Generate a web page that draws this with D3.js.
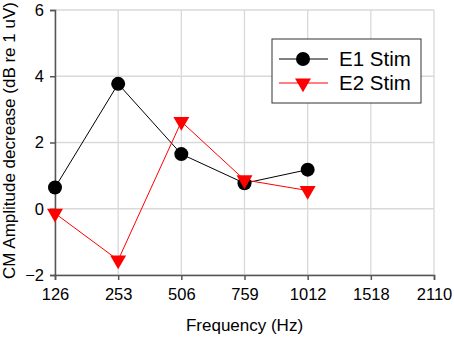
<!DOCTYPE html>
<html>
<head>
<meta charset="utf-8">
<script src="https://cdn.jsdelivr.net/npm/d3@7"></script>
<style>
  body { margin: 0; background: #fff; }
  text { font-family: "Liberation Sans", Arial, sans-serif; }
</style>
</head>
<body>
<div id="chart-area"></div>
<script>
// frequency categories along the x axis
let freqs = ["126", "253", "506", "759", "1012", "1518", "2110"];
let yTicks = [-2, 0, 2, 4, 6];

// values
let e1Freqs = ["126", "253", "506", "759", "1012"];
let e1Vals = [0.64, 3.77, 1.65, 0.77, 1.18];
let e2Freqs = ["126", "253", "506", "759", "1012"];
let e2Vals = [-0.14, -1.55, 2.63, 0.87, 0.55];

let margin = {top: 10, right: 20, bottom: 62, left: 55};
let width = 454 - margin.left - margin.right,
    height = 337 - margin.top - margin.bottom;

let svg = d3.select("#chart-area").append("svg")
    .attr("width", 454)
    .attr("height", 337)
    .append("g")
    .attr("transform", "translate(" + margin.left + "," + margin.top + ")");

let x = d3.scalePoint()
    .domain(freqs)
    .range([0, width]);

let y = d3.scaleLinear()
    .domain([-2, 6])
    .range([height, 0]);

// grid
svg.selectAll(".hgrid")
    .data(yTicks)
    .enter().append("line")
    .attr("x1", 0).attr("x2", width)
    .attr("y1", d => y(d)).attr("y2", d => y(d))
    .attr("stroke", "#d9d9d9")
    .attr("stroke-width", 1.3);

svg.selectAll(".vgrid")
    .data(freqs)
    .enter().append("line")
    .attr("x1", d => x(d)).attr("x2", d => x(d))
    .attr("y1", 0).attr("y2", height)
    .attr("stroke", "#d9d9d9")
    .attr("stroke-width", 1.3);

// axes
let xAxis = d3.axisBottom(x).tickSize(5).tickPadding(8);
let yAxis = d3.axisLeft(y).tickValues(yTicks).tickSize(5).tickPadding(6);

let gx = svg.append("g")
    .attr("transform", "translate(0," + height + ")")
    .call(xAxis);
let gy = svg.append("g").call(yAxis);

[gx, gy].forEach(g => {
    g.select(".domain").attr("stroke", "#555").attr("stroke-width", 1.5);
    g.selectAll(".tick line").attr("stroke", "#555").attr("stroke-width", 1.5);
    g.selectAll(".tick text").attr("fill", "#000").style("font-size", "16.5px")
        .style("font-family", "'Liberation Sans', Arial, sans-serif");
});

// axis titles
svg.append("text")
    .attr("x", width / 2)
    .attr("y", height + 56)
    .attr("text-anchor", "middle")
    .style("font-size", "17px")
    .text("Frequency (Hz)");

svg.append("text")
    .attr("transform", "rotate(-90)")
    .attr("x", -height / 2 + 2)
    .attr("y", -40)
    .attr("text-anchor", "middle")
    .style("font-size", "17px")
    .text("CM Amplitude decrease (dB re 1 uV)");

let line = d3.line()
    .x(d => x(d[0]))
    .y(d => y(d[1]));

let e1 = e1Freqs.map((f, i) => [f, e1Vals[i]]);
let e2 = e2Freqs.map((f, i) => [f, e2Vals[i]]);

let tri = d3.symbol().type(d3.symbolTriangle).size(110);

// E1 series
svg.append("path")
    .datum(e1)
    .attr("d", line)
    .attr("fill", "none")
    .attr("stroke", "#000")
    .attr("stroke-width", 1);

// E2 series
svg.append("path")
    .datum(e2)
    .attr("d", line)
    .attr("fill", "none")
    .attr("stroke", "#ff0000")
    .attr("stroke-width", 1);

svg.selectAll(".e1dot")
    .data(e1)
    .enter().append("circle")
    .attr("cx", d => x(d[0]))
    .attr("cy", d => y(d[1]))
    .attr("r", 7)
    .attr("fill", "#000");

svg.selectAll(".e2tri")
    .data(e2)
    .enter().append("path")
    .attr("d", tri)
    .attr("transform", d => "translate(" + x(d[0]) + "," + y(d[1]) + ") rotate(180)")
    .attr("fill", "#ff0000");

// legend
let legend = svg.append("g")
    .attr("transform", "translate(" + (272 - margin.left) + "," + (39 - margin.top) + ")");

legend.append("rect")
    .attr("width", 149)
    .attr("height", 64)
    .attr("fill", "#fff")
    .attr("stroke", "#333")
    .attr("stroke-width", 1);

let legendItems = [
    {name: "E1 Stim", color: "#000", shape: "circle"},
    {name: "E2 Stim", color: "#ff0000", shape: "tri"}
];

legendItems.forEach((d, i) => {
    let ly = 20 + i * 24;
    legend.append("line")
        .attr("x1", 7).attr("x2", 56)
        .attr("y1", ly).attr("y2", ly)
        .attr("stroke", d.color);
    if (d.shape === "circle") {
        legend.append("circle")
            .attr("cx", 31).attr("cy", ly)
            .attr("r", 7)
            .attr("fill", d.color);
    } else {
        legend.append("path")
            .attr("d", tri)
            .attr("transform", "translate(31," + ly + ") rotate(180)")
            .attr("fill", d.color);
    }
    legend.append("text")
        .attr("x", 67)
        .attr("y", ly + 7)
        .style("font-size", "20.5px")
        .text(d.name);
});
</script>
</body>
</html>
